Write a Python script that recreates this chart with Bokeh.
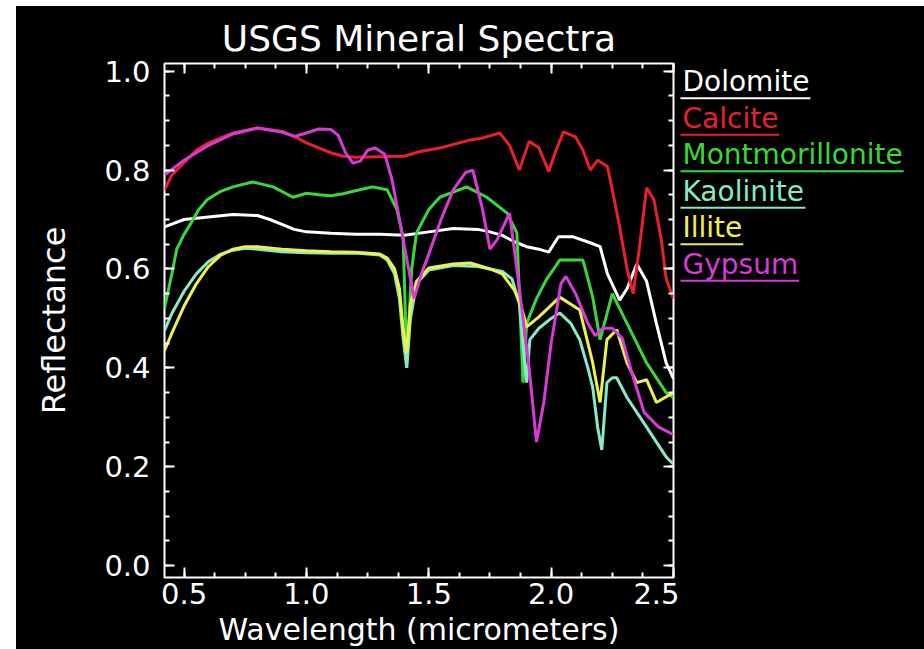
from bokeh.plotting import figure
from bokeh.models import (Range1d, LinearAxis, FixedTicker, Spacer, ColumnDataSource,
                          PrintfTickFormatter, CustomLabelingPolicy)
from bokeh.layouts import row, column
from bokeh.embed import file_html
from bokeh.resources import INLINE
from bokeh.core.properties import value
import numpy as np

FONT = "DejaVu Sans"

# ---- spectra (wavelength in micrometers, reflectance) ----
minerals = ["Dolomite", "Calcite", "Montmorillonite", "Kaolinite", "Illite", "Gypsum"]
colors = ["#ffffff", "#e8202c", "#38d838", "#86eac4", "#f0f04a", "#d83ad8"]

dolomite_wl = [0.42, 0.5, 0.6, 0.7, 0.8, 0.85, 0.9, 0.95, 1.0, 1.1, 1.2, 1.3, 1.4, 1.5,
               1.6, 1.7, 1.75, 1.8, 1.85, 1.9, 1.95, 1.99, 2.03, 2.09, 2.16, 2.2, 2.23,
               2.28, 2.31, 2.35, 2.39, 2.43, 2.47, 2.5]
dolomite_r = [0.685, 0.70, 0.705, 0.71, 0.708, 0.70, 0.69, 0.68, 0.675, 0.672, 0.67, 0.67,
              0.668, 0.675, 0.682, 0.68, 0.675, 0.668, 0.655, 0.645, 0.64, 0.634, 0.665,
              0.665, 0.653, 0.645, 0.59, 0.537, 0.56, 0.61, 0.575, 0.49, 0.41, 0.378]

calcite_wl = [0.42, 0.45, 0.5, 0.55, 0.6, 0.7, 0.8, 0.9, 0.95, 1.0, 1.05, 1.1, 1.15, 1.2,
              1.3, 1.4, 1.46, 1.55, 1.67, 1.72, 1.79, 1.83, 1.87, 1.91, 1.95, 1.99, 2.02,
              2.05, 2.1, 2.13, 2.16, 2.19, 2.23, 2.25, 2.28, 2.31, 2.335, 2.36, 2.39, 2.42,
              2.45, 2.47, 2.5]
calcite_r = [0.76, 0.79, 0.815, 0.84, 0.855, 0.875, 0.885, 0.878, 0.868, 0.855, 0.845,
             0.835, 0.828, 0.826, 0.827, 0.828, 0.837, 0.845, 0.861, 0.865, 0.875, 0.85,
             0.80, 0.858, 0.845, 0.797, 0.84, 0.877, 0.867, 0.84, 0.80, 0.82, 0.807, 0.76,
             0.685, 0.60, 0.55, 0.64, 0.764, 0.74, 0.66, 0.58, 0.54]

montmorillonite_wl = [0.42, 0.45, 0.47, 0.5, 0.525, 0.56, 0.594, 0.65, 0.7, 0.78, 0.864,
                      0.945, 1.0, 1.05, 1.1, 1.15, 1.2, 1.27, 1.33, 1.37, 1.395, 1.41, 1.43,
                      1.45, 1.5, 1.545, 1.655, 1.737, 1.82, 1.86, 1.885, 1.9, 1.94, 1.98,
                      2.035, 2.13, 2.17, 2.2, 2.25, 2.31, 2.39, 2.47, 2.5]
montmorillonite_r = [0.52, 0.59, 0.64, 0.67, 0.69, 0.72, 0.74, 0.757, 0.766, 0.776, 0.766,
                     0.745, 0.753, 0.75, 0.748, 0.752, 0.758, 0.766, 0.76, 0.72, 0.665, 0.41,
                     0.60, 0.673, 0.72, 0.745, 0.766, 0.745, 0.713, 0.673, 0.37, 0.49, 0.54,
                     0.578, 0.618, 0.618, 0.543, 0.457, 0.55, 0.49, 0.41, 0.35, 0.34]

kaolinite_wl = [0.42, 0.45, 0.5, 0.55, 0.6, 0.65, 0.7, 0.75, 0.8, 0.9, 1.0, 1.1, 1.2, 1.3,
                1.33, 1.36, 1.38, 1.395, 1.41, 1.425, 1.45, 1.5, 1.6, 1.7, 1.8, 1.84, 1.87,
                1.89, 1.9, 1.913, 1.95, 2.0, 2.035, 2.08, 2.117, 2.15, 2.17, 2.19, 2.207,
                2.228, 2.25, 2.268, 2.31, 2.39, 2.47, 2.5]
kaolinite_r = [0.475, 0.51, 0.555, 0.59, 0.615, 0.63, 0.638, 0.642, 0.64, 0.635, 0.633,
               0.632, 0.632, 0.628, 0.618, 0.59, 0.54, 0.46, 0.40, 0.50, 0.57, 0.598, 0.607,
               0.605, 0.595, 0.58, 0.53, 0.42, 0.37, 0.457, 0.48, 0.50, 0.511, 0.49, 0.457,
               0.40, 0.36, 0.28, 0.234, 0.37, 0.38, 0.38, 0.34, 0.28, 0.22, 0.205]

illite_wl = [0.42, 0.45, 0.5, 0.55, 0.6, 0.65, 0.7, 0.75, 0.8, 0.9, 1.0, 1.1, 1.2, 1.3, 1.33,
             1.36, 1.38, 1.395, 1.41, 1.425, 1.45, 1.5, 1.6, 1.67, 1.75, 1.8, 1.85, 1.88,
             1.9, 1.95, 2.035, 2.117, 2.17, 2.2, 2.228, 2.268, 2.31, 2.35, 2.39, 2.43, 2.5]
illite_r = [0.435, 0.47, 0.525, 0.57, 0.605, 0.628, 0.64, 0.645, 0.645, 0.64, 0.637, 0.635,
            0.634, 0.63, 0.622, 0.60, 0.56, 0.48, 0.43, 0.53, 0.575, 0.602, 0.61, 0.612,
            0.60, 0.59, 0.557, 0.52, 0.483, 0.503, 0.543, 0.517, 0.41, 0.33, 0.457, 0.477,
            0.41, 0.37, 0.376, 0.33, 0.35]

gypsum_wl = [0.42, 0.5, 0.6, 0.7, 0.8, 0.9, 0.95, 1.0, 1.05, 1.1, 1.13, 1.16, 1.19, 1.22,
             1.25, 1.28, 1.32, 1.35, 1.38, 1.41, 1.44, 1.47, 1.5, 1.55, 1.6, 1.65, 1.68,
             1.72, 1.75, 1.78, 1.83, 1.86, 1.88, 1.91, 1.94, 1.97, 2.0, 2.04, 2.06, 2.1,
             2.15, 2.18, 2.21, 2.25, 2.29, 2.33, 2.38, 2.44, 2.5]
gypsum_r = [0.79, 0.82, 0.85, 0.873, 0.885, 0.877, 0.868, 0.875, 0.883, 0.882, 0.87, 0.835,
            0.814, 0.818, 0.84, 0.845, 0.832, 0.78, 0.70, 0.62, 0.54, 0.59, 0.63, 0.70, 0.76,
            0.795, 0.80, 0.72, 0.64, 0.66, 0.713, 0.60, 0.52, 0.40, 0.25, 0.33, 0.45, 0.57,
            0.585, 0.55, 0.49, 0.465, 0.48, 0.48, 0.46, 0.39, 0.31, 0.28, 0.265]

series = [(dolomite_wl, dolomite_r), (calcite_wl, calcite_r),
          (montmorillonite_wl, montmorillonite_r), (kaolinite_wl, kaolinite_r),
          (illite_wl, illite_r), (gypsum_wl, gypsum_r)]

x_major = [0.5, 1.0, 1.5, 2.0, 2.5]
y_major = [0.0, 0.2, 0.4, 0.6, 0.8, 1.0]

# ---- main plot ----
BORDER_TOP, BORDER_BOTTOM = 57, 71
p = figure(width=663, height=643,
           x_range=Range1d(0.42, 2.5), y_range=Range1d(-0.024, 1.0155),
           output_backend="svg", toolbar_location=None,
           background_fill_color="black", border_fill_color="black",
           min_border_left=148, min_border_right=6,
           min_border_top=BORDER_TOP, min_border_bottom=BORDER_BOTTOM,
           title="USGS Mineral Spectra",
           x_axis_label="Wavelength (micrometers)", y_axis_label="Reflectance")

p.title.text_font = FONT
p.title.text_font_size = "36px"
p.title.text_font_style = "normal"
p.title.text_color = "white"
p.title.align = "center"
p.title.standoff = 9

p.outline_line_color = "white"
p.outline_line_width = 2
p.grid.visible = False

x_ticker = FixedTicker(ticks=x_major, minor_ticks=list(np.arange(0.5, 2.501, 0.125)))
y_ticker = FixedTicker(ticks=y_major, minor_ticks=list(np.arange(0.0, 1.001, 0.05)))

p.add_layout(LinearAxis(), "above")
p.add_layout(LinearAxis(), "right")

for ax in p.xaxis:
    ax.ticker = x_ticker
for ax in p.yaxis:
    ax.ticker = y_ticker

for ax in p.axis:
    ax.formatter = PrintfTickFormatter(format="%.1f")
    ax.axis_line_color = None
    ax.major_tick_line_color = "white"
    ax.minor_tick_line_color = "white"
    ax.major_tick_line_width = 2
    ax.minor_tick_line_width = 2
    ax.major_tick_in = 10
    ax.major_tick_out = 0
    ax.minor_tick_in = 5
    ax.minor_tick_out = 0
    ax.major_label_text_color = "white"
    ax.major_label_text_font = FONT
    ax.major_label_text_font_size = "29px"
    ax.axis_label_text_color = "white"
    ax.axis_label_text_font = FONT
    ax.axis_label_text_font_size = "30px"
    ax.axis_label_text_font_style = "normal"

# mirrored axes on top and right: ticks only, no labels and no space kept for them
no_labels = CustomLabelingPolicy(code="""
    for (const i of indices) { indices.unset(i) }
    return indices
""")
for ax in (p.above[0], p.right[0]):
    ax.major_label_policy = no_labels
    ax.major_label_text_font_size = "0px"
    ax.major_label_standoff = 0
    ax.axis_label = None

p.xaxis[0].major_label_standoff = 5
p.xaxis[0].axis_label_standoff = -5
p.yaxis[0].major_label_standoff = 14
p.yaxis[0].axis_label_standoff = 28
p.yaxis[0].axis_label_text_font_size = "32px"

for (wl, r), c in zip(series, colors):
    p.line(wl, r, line_color=c, line_width=3)

# ---- legend panel: names underlined in their colours ----
# DejaVu Sans advance widths (em) for the letters used in the names
ADV = {"D": .770, "o": .612, "l": .278, "m": .974, "i": .278, "t": .392, "e": .615,
       "C": .698, "a": .613, "c": .550, "M": .863, "n": .634, "r": .411, "K": .656,
       "I": .295, "G": .776, "y": .592, "p": .635, "s": .521, "u": .634}
LEG_SIZE = 28
LEG_LEFT, LEG_W, LEG_H = 679, 245, 643
# legend panel works in page pixels (y grows downward); its frame lines up with the plot frame
PAGE_TOP_FRAME, PAGE_BOTTOM_FRAME = 6 + BORDER_TOP, 6 + LEG_H - BORDER_BOTTOM
underlines = [97.7 + 36.6 * k for k in range(len(minerals))]
widths = [sum(ADV[ch] for ch in name) * LEG_SIZE for name in minerals]

leg = ColumnDataSource(dict(
    x=[LEG_LEFT + 3] * len(minerals), y=[u - 16.5 for u in underlines],
    text=minerals, color=colors,
    x0=[LEG_LEFT + 1] * len(minerals), x1=[LEG_LEFT + 4 + w for w in widths],
    yu=underlines))

lg = figure(width=LEG_W, height=LEG_H,
            x_range=Range1d(LEG_LEFT, LEG_LEFT + LEG_W),
            y_range=Range1d(PAGE_BOTTOM_FRAME, PAGE_TOP_FRAME),
            output_backend="svg", toolbar_location=None,
            min_border_left=0, min_border_right=0,
            min_border_top=BORDER_TOP, min_border_bottom=BORDER_BOTTOM,
            x_axis_location=None, y_axis_location=None,
            background_fill_color=None, border_fill_color="black")
lg.outline_line_color = None
lg.grid.visible = False
lg.text(x="x", y="y", text="text", text_color="color", source=leg,
        text_font=value(FONT), text_font_size=f"{LEG_SIZE}px",
        text_baseline=value("middle"), text_align=value("left"))
lg.segment(x0="x0", y0="yu", x1="x1", y1="yu", line_color="color", line_width=2, source=leg)

page = row(Spacer(width=16, height=649),
           column(Spacer(width=908, height=6),
                  row(p, lg, styles={"background-color": "black"})))

open("out.html", "w").write(file_html(page, INLINE))
